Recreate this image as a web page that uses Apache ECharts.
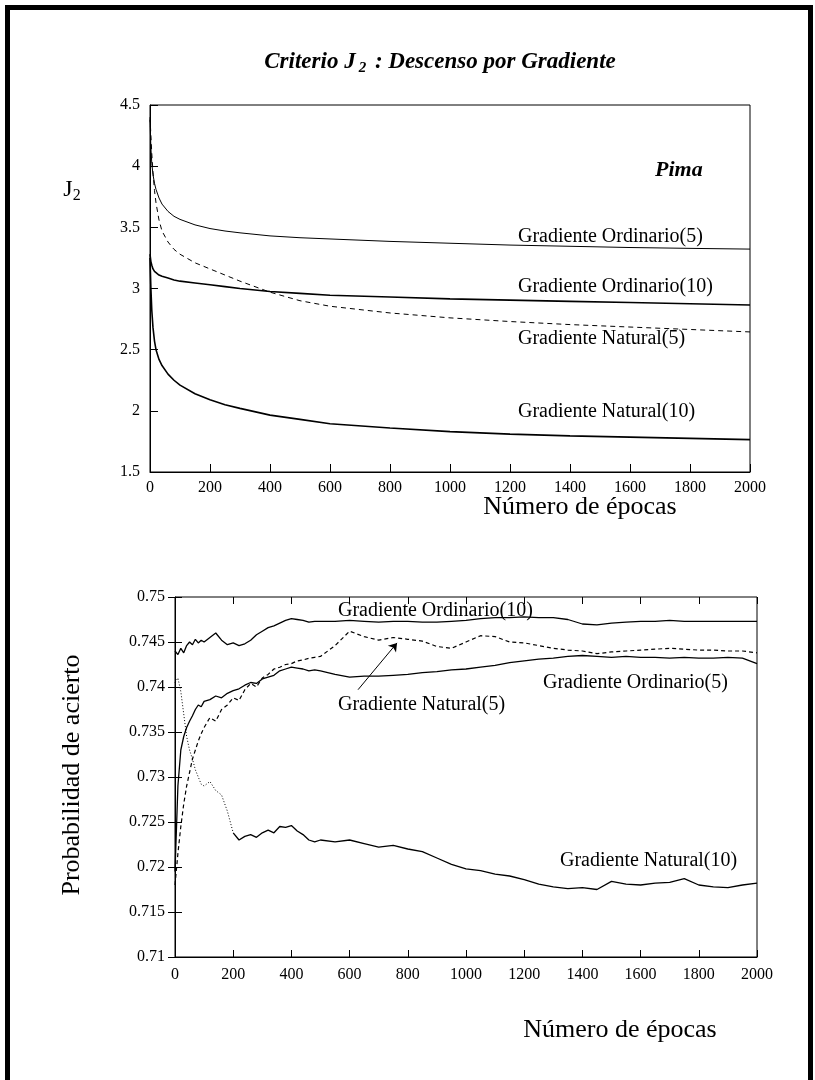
<!DOCTYPE html>
<html>
<head>
<meta charset="utf-8">
<script src="https://cdn.jsdelivr.net/npm/echarts@6/dist/echarts.min.js"></script>
<style>
html,body{margin:0;padding:0;background:#fff;}
#chart{position:absolute;left:0;top:0;width:815px;height:1080px;}
#frame{position:absolute;left:5px;top:5px;width:798px;height:1100px;border-left:5px solid #000;border-top:5px solid #000;border-right:5px solid #000;pointer-events:none;}
</style>
</head>
<body>
<div id="chart"></div>
<div id="frame"></div>
<script>
// ---------- Top chart: criterion J2 vs epochs ----------
const epochsT = [0,3,6,10,15,20,30,40,60,80,100,150,200,250,300,400,500,600,800,1000,1200,1400,1600,1800,2000];
const j2Ord5  = [4.38,4.15,4.02,3.93,3.86,3.81,3.74,3.69,3.63,3.59,3.565,3.52,3.49,3.47,3.455,3.43,3.415,3.405,3.385,3.37,3.355,3.345,3.335,3.328,3.322];
const j2Ord10 = [3.28,3.22,3.19,3.16,3.14,3.13,3.11,3.10,3.085,3.07,3.06,3.045,3.03,3.015,3.0,2.975,2.96,2.945,2.93,2.915,2.905,2.895,2.885,2.875,2.865];
const j2Nat5  = [4.40,4.25,4.10,3.95,3.80,3.70,3.56,3.47,3.38,3.32,3.28,3.21,3.16,3.11,3.06,2.97,2.90,2.855,2.80,2.76,2.73,2.705,2.685,2.665,2.645];
const j2Nat10 = [3.25,3.0,2.82,2.68,2.57,2.50,2.42,2.37,2.30,2.25,2.21,2.14,2.09,2.05,2.02,1.965,1.93,1.895,1.86,1.83,1.81,1.795,1.785,1.775,1.765];

// ---------- Bottom chart: accuracy vs epochs ----------
const epochsB = [0,10,20,30,40,50,60,70,80,90,100,
  120,140,160,180,200,220,240,260,280,300,320,340,360,380,400,420,440,460,480,500,
  550,600,650,700,750,800,850,900,950,1000,1050,1100,1150,1200,1250,1300,1350,1400,1450,1500,1550,1600,1650,1700,1750,1800,1850,1900,1950,2000];
const accOrd10 = [0.7440,0.7436,0.7443,0.7438,0.7446,0.7450,0.7447,0.7453,0.7449,0.7452,0.7450,
  0.7455,0.7460,0.7452,0.7447,0.7449,0.7446,0.7448,0.7452,0.7458,0.7462,0.7466,0.7468,0.7471,0.7474,0.7476,0.7475,0.7474,0.7472,0.7473,0.7473,
  0.7473,0.7474,0.7473,0.7472,0.7473,0.7473,0.7472,0.7472,0.7473,0.7474,0.7476,0.7477,0.7477,0.7478,0.7477,0.7477,0.7475,0.7470,0.7469,0.7471,0.7472,0.7473,0.7473,0.7474,0.7473,0.7473,0.7473,0.7473,0.7473,0.7473];
const accOrd5 = [0.7195,0.7290,0.7330,0.7345,0.7355,0.7362,0.7368,0.7375,0.7380,0.7378,0.7384,
  0.7386,0.7390,0.7388,0.7393,0.7396,0.7398,0.7402,0.7405,0.7404,0.7409,0.7411,0.7413,0.7418,0.7420,0.7422,0.7421,0.7420,0.7418,0.7419,0.7418,
  0.7414,0.7411,0.7412,0.7412,0.7413,0.7414,0.7416,0.7417,0.7419,0.7420,0.7422,0.7424,0.7427,0.7429,0.7431,0.7432,0.7434,0.7435,0.7434,0.7433,0.7434,0.7433,0.7433,0.7432,0.7433,0.7432,0.7432,0.7433,0.7432,0.7426];
const accNat5 = [0.7180,0.7215,0.7245,0.7270,0.7290,0.7305,0.7320,0.7330,0.7340,0.7348,0.7355,
  0.7366,0.7362,0.7375,0.7380,0.7388,0.7385,0.7397,0.7404,0.7400,0.7410,0.7414,0.7420,0.7422,0.7425,0.7426,0.7429,0.7430,0.7432,0.7433,0.7434,
  0.7446,0.7462,0.7456,0.7452,0.7455,0.7453,0.7451,0.7445,0.7443,0.7450,0.7457,0.7456,0.7450,0.7449,0.7446,0.7443,0.7441,0.7440,0.7437,0.7439,0.7440,0.7441,0.7442,0.7443,0.7442,0.7441,0.7441,0.7440,0.7440,0.7438];
const accNat10 = [0.7405,0.7410,0.7395,0.7370,0.7345,0.7330,0.7320,0.7308,0.7300,0.7292,0.7290,
  0.7295,0.7285,0.7280,0.7262,0.7238,0.7230,0.7234,0.7236,0.7233,0.7238,0.7241,0.7238,0.7245,0.7244,0.7246,0.7240,0.7236,0.7230,0.7228,0.7230,
  0.7228,0.7230,0.7226,0.7222,0.7224,0.7220,0.7217,0.7210,0.7203,0.7198,0.7196,0.7192,0.7190,0.7186,0.7181,0.7178,0.7176,0.7177,0.7175,0.7184,0.7181,0.7180,0.7182,0.7183,0.7187,0.7180,0.7178,0.7177,0.7180,0.7182];
const arrowFrom = [629, 0.7397];
const arrowTo = [763, 0.7449];

const FONT = 'Liberation Serif';
const zip = (xs, ys) => xs.map((x, i) => [x, ys[i]]);
const nat10Split = epochsB.indexOf(200);

const chart = echarts.init(document.getElementById('chart'), null, {renderer: 'canvas'});

const tickLabel = {color: '#000', fontFamily: FONT, fontSize: 16};
function line(xi, yi, xs, ys, width, type) {
  return {type: 'line', xAxisIndex: xi, yAxisIndex: yi, data: zip(xs, ys), showSymbol: false, symbol: 'none',
    lineStyle: {color: '#000', width: width, type: type || 'solid'}, silent: true, animation: false};
}
function text(x, y, str, size, opts) {
  return Object.assign({type: 'text', x: x, y: y, silent: true,
    style: Object.assign({text: str, fill: '#000', font: size + 'px "' + FONT + '"', textVerticalAlign: 'middle', textAlign: 'left'}, opts || {})});
}
const plainNum = v => String(v);

const option = {
  backgroundColor: '#fff',
  animation: false,
  grid: [
    {left: 150, top: 105, width: 600, height: 367, show: true, borderColor: '#000', borderWidth: 1, backgroundColor: 'transparent'},
    {left: 175, top: 597, width: 582, height: 360, show: true, borderColor: '#000', borderWidth: 1, backgroundColor: 'transparent'}
  ],
  xAxis: [
    {type: 'value', gridIndex: 0, min: 0, max: 2000, interval: 200,
      axisLine: {show: true, lineStyle: {color: '#000', width: 1}},
      axisTick: {show: true, inside: true, length: 8, lineStyle: {color: '#000'}},
      axisLabel: Object.assign({margin: 8, formatter: plainNum}, tickLabel), splitLine: {show: false}},
    {type: 'value', gridIndex: 1, min: 0, max: 2000, interval: 200,
      axisLine: {show: true, lineStyle: {color: '#000', width: 1}},
      axisTick: {show: true, inside: true, length: 7, lineStyle: {color: '#000'}},
      axisLabel: Object.assign({margin: 10, formatter: plainNum}, tickLabel), splitLine: {show: false}},
    {type: 'value', gridIndex: 1, min: 0, max: 2000, interval: 200, position: 'top',
      axisLine: {show: false},
      axisTick: {show: true, inside: true, length: 7, lineStyle: {color: '#000'}},
      axisLabel: {show: false}, splitLine: {show: false}}
  ],
  yAxis: [
    {type: 'value', gridIndex: 0, min: 1.5, max: 4.5, interval: 0.5,
      axisLine: {show: true, lineStyle: {color: '#000', width: 1}},
      axisTick: {show: true, inside: true, length: 8, lineStyle: {color: '#000'}},
      axisLabel: Object.assign({margin: 10, formatter: plainNum}, tickLabel), splitLine: {show: false}},
    {type: 'value', gridIndex: 1, min: 0.71, max: 0.75, interval: 0.005,
      axisLine: {show: true, lineStyle: {color: '#000', width: 1}},
      axisTick: {show: true, inside: true, length: 7, lineStyle: {color: '#000'}},
      axisLabel: Object.assign({margin: 10, formatter: v => String(Math.round(v * 1000) / 1000)}, tickLabel),
      splitLine: {show: false}},
    {type: 'value', gridIndex: 1, min: 0.71, max: 0.75, interval: 0.005, position: 'right',
      axisLine: {show: false},
      axisTick: {show: true, inside: true, length: 7, lineStyle: {color: '#000'}},
      axisLabel: {show: false}, splitLine: {show: false}}
  ],
  series: [
    line(0, 0, epochsT, j2Ord5, 1),
    line(0, 0, epochsT, j2Ord10, 1.6),
    line(0, 0, epochsT, j2Nat5, 1, [5, 4]),
    line(0, 0, epochsT, j2Nat10, 1.6),
    line(1, 1, epochsB, accOrd10, 1.3),
    line(1, 1, epochsB, accOrd5, 1.3),
    Object.assign(line(1, 1, epochsB, accNat5, 1.2, [4, 3]), {
      markLine: {silent: true, symbol: ['none', 'arrow'], symbolSize: 8, label: {show: false},
        lineStyle: {color: '#000', width: 1, type: 'solid'},
        data: [[{coord: arrowFrom}, {coord: arrowTo}]]}
    }),
    line(1, 1, epochsB.slice(0, nat10Split + 1), accNat10.slice(0, nat10Split + 1), 1, [1, 2]),
    line(1, 1, epochsB.slice(nat10Split), accNat10.slice(nat10Split), 1.3)
  ],
  graphic: [
    {type: 'text', x: 440, y: 62, silent: true, style: {
      text: '{t|Criterio J}{s|2}{t| : Descenso por Gradiente}', textAlign: 'center', textVerticalAlign: 'middle',
      rich: {
        t: {fontFamily: FONT, fontSize: 23, fontWeight: 'bold', fontStyle: 'italic', lineHeight: 28, fill: '#000'},
        s: {fontFamily: FONT, fontSize: 15, fontWeight: 'bold', fontStyle: 'italic', lineHeight: 15, verticalAlign: 'bottom', padding: [0, 3, 0, 3], fill: '#000'}
      }}},
    {type: 'text', x: 72, y: 190, silent: true, style: {
      text: '{t|J}{s|2}', textAlign: 'center', textVerticalAlign: 'middle',
      rich: {
        t: {fontFamily: FONT, fontSize: 24, lineHeight: 28, fill: '#000'},
        s: {fontFamily: FONT, fontSize: 16, lineHeight: 16, verticalAlign: 'bottom', fill: '#000'}
      }}},
    text(655, 170, 'Pima', 22, {font: 'italic bold 22px "' + FONT + '"'}),
    text(518, 237, 'Gradiente Ordinario(5)', 20),
    text(518, 287, 'Gradiente Ordinario(10)', 20),
    text(518, 339, 'Gradiente Natural(5)', 20),
    text(518, 412, 'Gradiente Natural(10)', 20),
    text(580, 507, 'Número de épocas', 26, {textAlign: 'center'}),
    text(338, 611, 'Gradiente Ordinario(10)', 20),
    text(543, 683, 'Gradiente Ordinario(5)', 20),
    text(338, 705, 'Gradiente Natural(5)', 20),
    text(560, 861, 'Gradiente Natural(10)', 20),
    text(620, 1030, 'Número de épocas', 26, {textAlign: 'center'}),
    {type: 'text', x: 72, y: 775, rotation: Math.PI / 2, silent: true,
      style: {text: 'Probabilidad de acierto', fill: '#000', font: '26px "' + FONT + '"', textAlign: 'center', textVerticalAlign: 'middle'}}
  ]
};
chart.setOption(option);
</script>
</body>
</html>
